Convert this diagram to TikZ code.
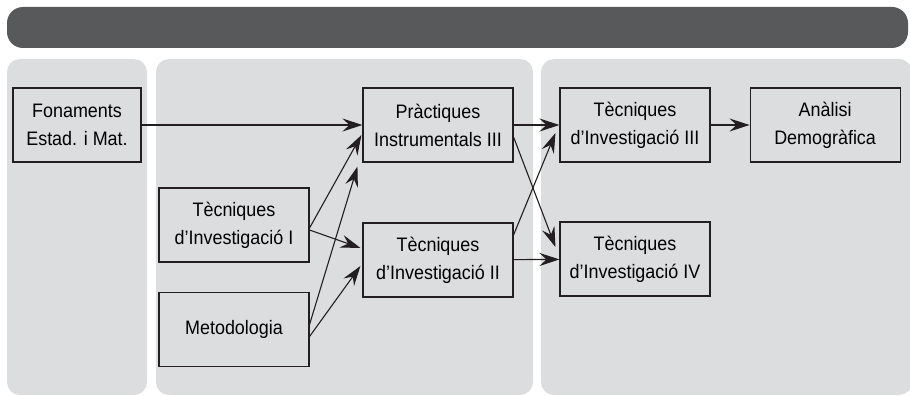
\documentclass[tikz,border=0pt]{standalone}
\usepackage{fontspec}
\setmainfont[FakeStretch=0.92]{Liberation Sans}
\usetikzlibrary{positioning,calc,arrows.meta}
\definecolor{bandgray}{HTML}{58595B}
\definecolor{panelgray}{HTML}{DCDDDF}
\definecolor{linegray}{HTML}{231F20}

\begin{document}
\begin{tikzpicture}[x=1pt,y=-1pt]
    \tikzset{course/.style = {rectangle, draw=linegray, line width=1.1pt, align=center, minimum width=150pt, minimum height=74pt, inner sep=2pt, font=\fontsize{19.5}{28}\selectfont}, }
    \tikzset{panel/.style = {fill=panelgray, rounded corners=13pt}, }
    \tikzset{arrow/.style = {line width=1.1pt, draw=linegray, -{Stealth[length=20pt,width=13pt,inset=7pt]}}, }
       \useasboundingbox (0,0) rectangle (910,396);
       % band and columns
       \fill[bandgray, rounded corners=16pt] (7,7) rectangle (908,48);
       \fill[panel] (7,59) rectangle (147,395);
       \fill[panel] (156,59) rectangle (533,395);
       \fill[panel] (541,59) rectangle (912,395);

       \node[course, minimum width=128pt] (FEM) at (77,125) {Fonaments\\Estad. i Mat.};
       \node[course] (PI3) at (438,125) {Pràctiques\\Instrumentals III};
       \node[course] (TI1) at (234,225) {Tècniques\\d’Investigació I};
       \node[course] (TI2) at (438,260) {Tècniques\\d’Investigació II};
       \node[course] (MET) at (234,329.5) {Metodologia};
       \node[course] (TI3) at (635,125) {Tècniques\\d’Investigació III};
       \node[course, right=39pt of TI3] (AD) {Anàlisi\\Demogràfica};
       \node[course] (TI4) at (635,259) {Tècniques\\d’Investigació IV};

       \draw[arrow] (FEM) -- (PI3);
       \draw[arrow] ($(TI1.east)+(0,3)$) -- ($(PI3.west)+(-1,10)$);
       \draw[arrow] ($(TI1.east)+(0,5)$) -- ($(TI2.west)+(-2,-12)$);
       \draw[arrow] ($(MET.east)+(0,-5)$) -- ($(PI3.south west)+(-5,4)$);
       \draw[arrow] ($(MET.east)+(0,7)$) -- ($(TI2.west)+(-2,6)$);
       \draw[arrow] (PI3) -- (TI3);
       \draw[arrow] ($(PI3.east)+(0,12)$) -- ($(TI4.west)+(-4,-12)$);
       \draw[arrow] ($(TI2.east)+(0,-25)$) -- ($(TI3.west)+(-4,8)$);
       \draw[arrow] (TI2) -- (TI4);
       \draw[arrow] (TI3) -- (AD);

\end{tikzpicture}
\end{document}
